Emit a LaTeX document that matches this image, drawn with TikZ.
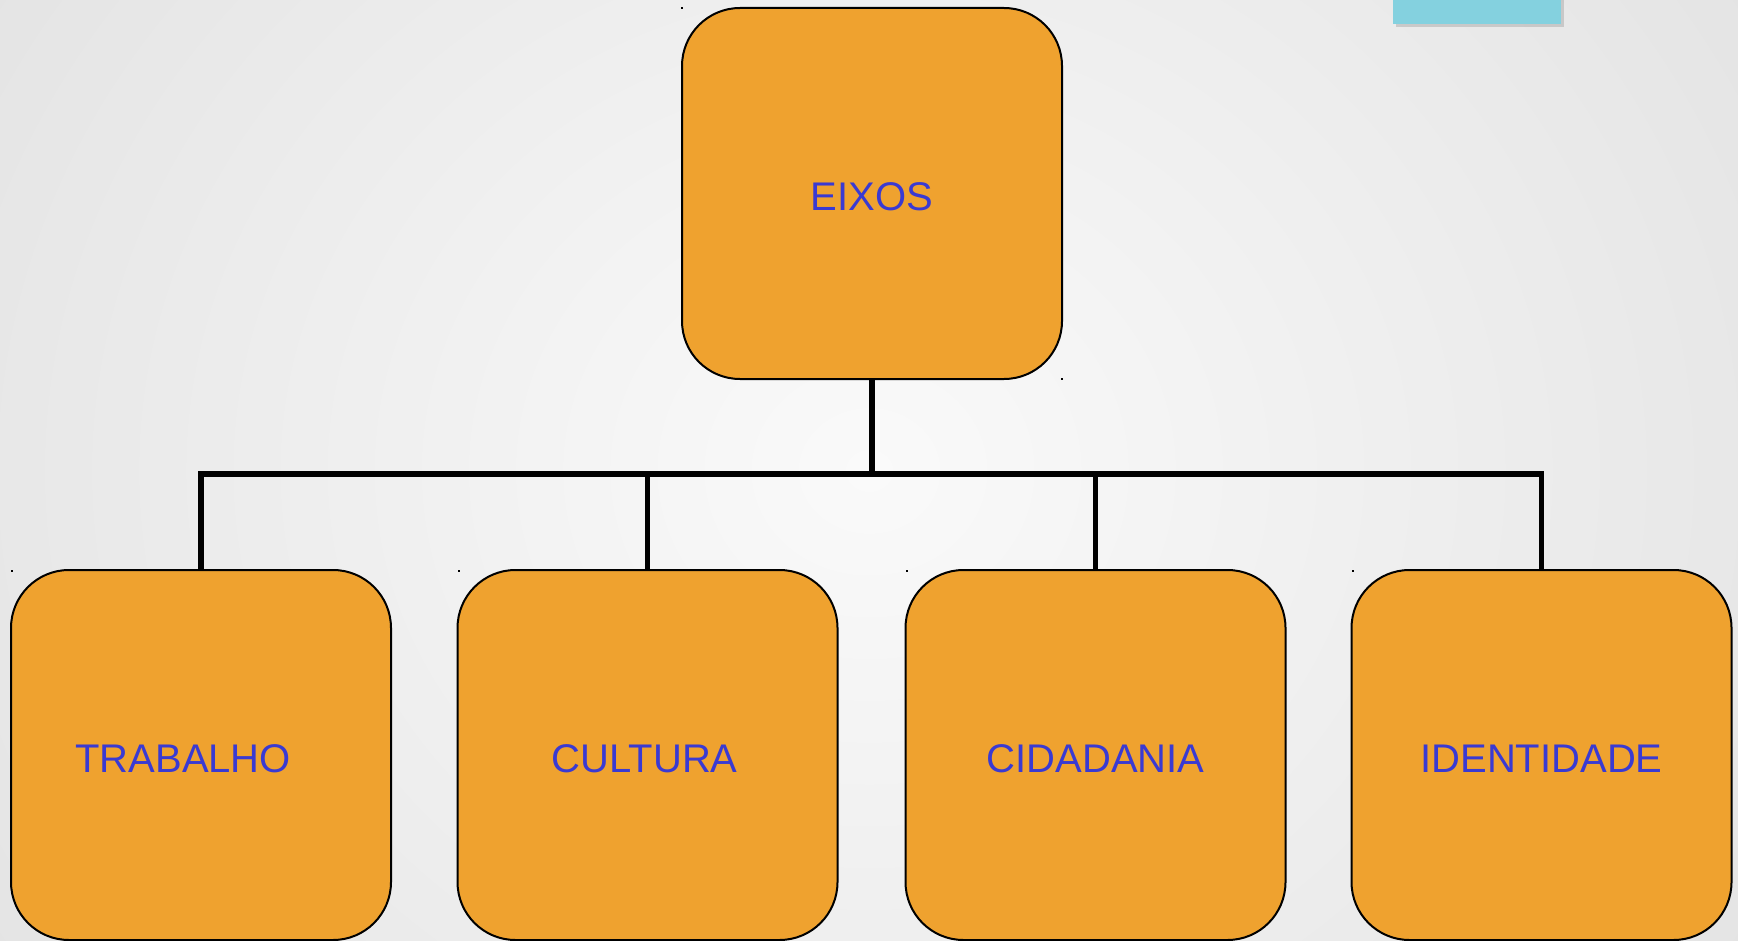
\documentclass[tikz,border=0pt]{standalone}
\usepackage{fontspec}
\setmainfont{Liberation Sans}
\definecolor{boxorange}{RGB}{239,162,47}
\definecolor{txtblue}{RGB}{58,58,210}
\definecolor{tealbar}{RGB}{132,209,223}
\definecolor{bgin}{RGB}{250,250,250}
\definecolor{bgout}{RGB}{222,222,222}
\begin{document}
\begin{tikzpicture}[x=0.5pt,y=-0.5pt,
  axisbox/.style={draw=black,line width=1pt,fill=boxorange,rounded corners=29pt,
    minimum width=190pt,minimum height=185pt,inner sep=0pt},
  axislabel/.style={text=txtblue,font=\fontsize{20pt}{24pt}\selectfont,inner sep=0pt},
  conn/.style={draw=black,line width=2.8pt},
  speck/.style={fill=black}]
\useasboundingbox (0,0) rectangle (1738,941);
\begin{scope}
\clip (0,0) rectangle (1738,941);
\shade[inner color=bgin,outer color=bgout] (-450,-700) rectangle (2188,1641);
\end{scope}
% teal bar with shadow
\fill[black!40,opacity=0.4] (1396,0) rectangle (1564,27);
\fill[tealbar] (1393,0) rectangle (1561,24);
% boxes
\node[axisbox,minimum height=185.5pt] (top) at (872,193.5) {};
\node[axisbox] (b1) at (201,755) {};
\node[axisbox] (b2) at (647.5,755) {};
\node[axisbox] (b3) at (1095.5,755) {};
\node[axisbox] (b4) at (1541.5,755) {};
% labels
\node[axislabel] (ltop) at ([yshift=-1.5pt]top.center) {EIXOS};
\node[axislabel] (l1) at ([xshift=-8.9pt,yshift=-2pt]b1.center) {TRABALHO};
\node[axislabel] (l2) at ([xshift=-1.4pt,yshift=-2pt]b2.center) {CULTURA};
\node[axislabel] (l3) at ([xshift=0pt,yshift=-2pt]b3.center) {CIDADANIA};
\node[axislabel] (l4) at ([xshift=0pt,yshift=-2pt]b4.center) {IDENTIDADE};
% connectors
\coordinate (bus) at (872,474);
\draw[conn] (top.south) -- (bus);
\draw[conn] (bus) -| (b1.north);
\draw[conn] (bus) -| (b2.north);
\draw[conn] (bus) -| (b3.north);
\draw[conn] (bus) -| (b4.north);
% tiny specks
\fill[speck] (681,7) rectangle +(2,2);
\fill[speck] (1061,378) rectangle +(2,2);
\fill[speck] (11,570) rectangle +(2,2);
\fill[speck] (458,570) rectangle +(2,2);
\fill[speck] (906,570) rectangle +(2,2);
\fill[speck] (1352,570) rectangle +(2,2);
\end{tikzpicture}
\end{document}
